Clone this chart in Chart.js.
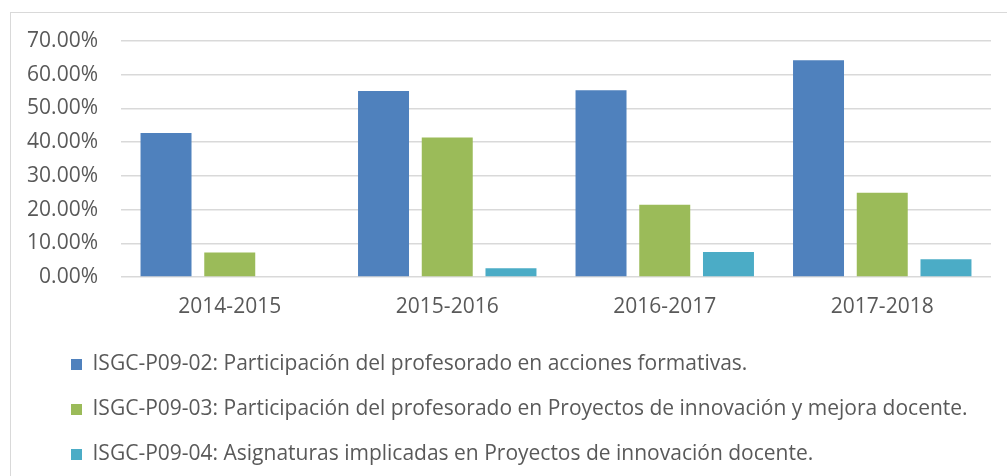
<!DOCTYPE html>
<html>
<head>
<meta charset="utf-8">
<script src="https://cdn.jsdelivr.net/npm/chart.js@4/dist/chart.umd.min.js"></script>
<style>
  html, body { margin: 0; padding: 0; background: #fff; }
  #wrap { position: relative; width: 1007px; height: 476px; overflow: hidden; }
  #frame { position: absolute; left: 10px; top: 12px; width: 1100px; height: 600px;
           border-left: 1px solid #d9d9d9; border-top: 1px solid #d9d9d9; }
  canvas { position: absolute; left: 0; top: 0; }
</style>
</head>
<body>
<div id="wrap">
  <div id="frame"></div>
  <canvas id="c" width="1007" height="476"></canvas>
</div>
<script>
const categories = ['2014-2015', '2015-2016', '2016-2017', '2017-2018'];
const seriesNames = [
  'ISGC-P09-02: Participación del profesorado en acciones formativas.',
  'ISGC-P09-03: Participación del profesorado en Proyectos de innovación y mejora docente.',
  'ISGC-P09-04: Asignaturas implicadas en Proyectos de innovación docente.'
];
const p0902 = [42.7, 55.2, 55.4, 64.3];
const p0903 = [7.3, 41.4, 21.4, 25.0];
const p0904 = [0.0, 2.6, 7.4, 5.3];
const seriesColors = ['#4F81BD', '#9BBB59', '#4BACC6'];
const yMax = 70;
const yStep = 10;

const FONT = 'Open Sans';
const TXT = '#595959';

const legendShift = {
  id: 'legendShift',
  afterLayout(chart) {
    const lg = chart.legend;
    if (lg) { lg.left += 27; lg.right += 27; lg.top += 4; lg.bottom += 4; }
  }
};

new Chart(document.getElementById('c'), {
  type: 'bar',
  data: {
    labels: categories,
    datasets: [p0902, p0903, p0904].map((d, i) => ({
      label: seriesNames[i],
      data: d,
      backgroundColor: seriesColors[i],
      borderWidth: 0,
      categoryPercentage: 0.879,
      barPercentage: 0.80
    }))
  },
  plugins: [legendShift],
  options: {
    responsive: false,
    animation: false,
    devicePixelRatio: 1,
    layout: { padding: { top: 41, left: 20, right: 16, bottom: 5 } },
    plugins: {
      tooltip: { enabled: false },
      legend: {
        position: 'bottom',
        align: 'start',
        labels: {
          boxWidth: 11, boxHeight: 11, padding: 24,
          color: TXT,
          font: { family: FONT, size: 21 }
        }
      }
    },
    scales: {
      x: {
        grid: { display: false, drawTicks: false },
        border: { display: false },
        ticks: { color: TXT, font: { family: FONT, size: 21 }, padding: 17 },
        afterFit: s => { s.height = 49; }
      },
      y: {
        min: 0, max: yMax,
        ticks: { stepSize: yStep, color: TXT, padding: 23,
                 font: { family: FONT, size: 21 },
                 callback: v => v.toFixed(2) + '%' },
        grid: { color: '#d9d9d9', lineWidth: 1.5, drawTicks: false },
        border: { display: false },
        afterFit: s => { s.width = 101; }
      }
    }
  }
});
</script>
</body>
</html>
